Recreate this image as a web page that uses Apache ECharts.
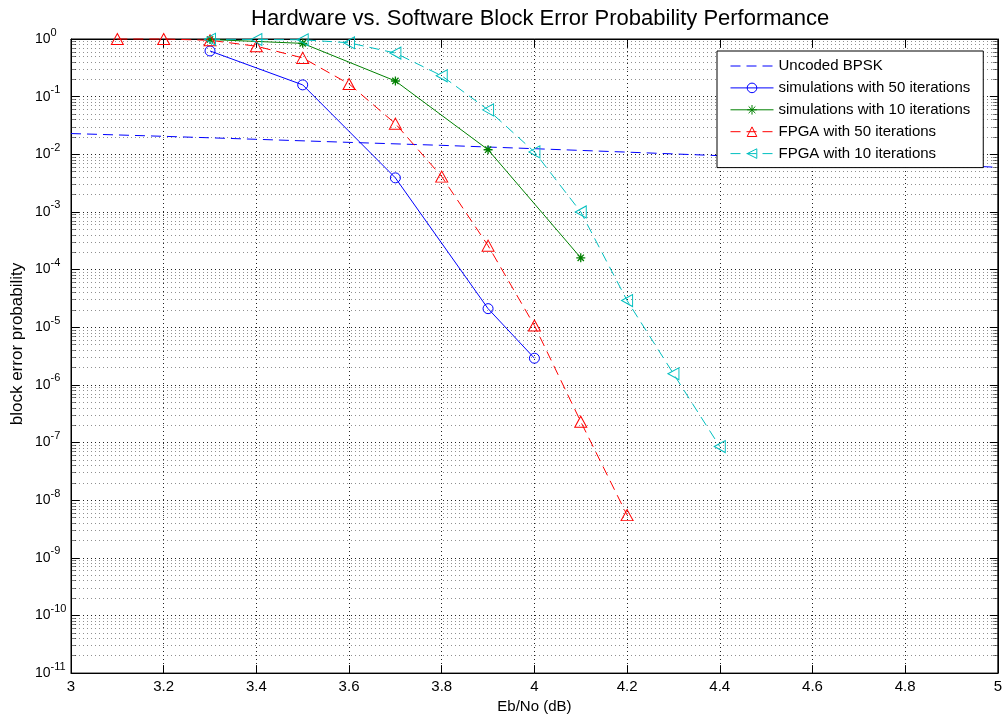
<!DOCTYPE html>
<html>
<head>
<meta charset="utf-8">
<script src="https://cdn.jsdelivr.net/npm/echarts@6/dist/echarts.min.js"></script>
<style>
  html, body { margin: 0; padding: 0; background: #fff; }
  #chart { width: 1005px; height: 719px; }
</style>
</head>
<body>
<div id="chart"></div>
<script>
// Eb/No (dB) and block error probability for each curve
const bpskEbNo   = [3.0, 3.2, 3.4, 3.6, 3.8, 4.0, 4.2, 4.4, 4.6, 4.8, 5.0];
const bpskBler   = [0.0229, 0.0205, 0.0182, 0.0161, 0.0143, 0.0125, 0.0109, 0.00946, 0.00816, 0.0070, 0.00595];

const sim50EbNo  = [3.3, 3.5, 3.7, 3.9, 4.0];
const sim50Bler  = [0.62, 0.16, 0.0039, 2.1e-5, 2.9e-6];

const sim10EbNo  = [3.3, 3.5, 3.7, 3.9, 4.1];
const sim10Bler  = [0.98, 0.84, 0.187, 0.012, 1.6e-4];

const fpga50EbNo = [3.1, 3.2, 3.3, 3.4, 3.5, 3.6, 3.7, 3.8, 3.9, 4.0, 4.1, 4.2];
const fpga50Bler = [1.0, 1.0, 0.95, 0.75, 0.47, 0.166, 0.034, 0.0041, 2.6e-4, 1.07e-5, 2.3e-7, 5.5e-9];

const fpga10EbNo = [3.3, 3.4, 3.5, 3.6, 3.7, 3.8, 3.9, 4.0, 4.1, 4.2, 4.3, 4.4];
const fpga10Bler = [0.99, 0.98, 0.97, 0.86, 0.57, 0.23, 0.059, 0.011, 1.0e-3, 2.9e-5, 1.56e-6, 8.5e-8];

// axis ranges and log-grid mantissas
const xTicks = [3, 3.2, 3.4, 3.6, 3.8, 4, 4.2, 4.4, 4.6, 4.8, 5];
const decadeExponents = [-11, -10, -9, -8, -7, -6, -5, -4, -3, -2, -1];
const minorMantissas = [2, 3, 4, 5, 6, 7, 8, 9];

const FONT = 'Liberation Sans, Arial, sans-serif';
const xMin = xTicks[0], xMax = xTicks[xTicks.length - 1];

function zip(xs, ys) { return xs.map((x, i) => [x, ys[i]]); }

// minor horizontal grid lines (2..9 x 10^n) and short minor ticks on both sides
const minorValues = [];
decadeExponents.forEach(e => minorMantissas.forEach(m => minorValues.push(m * Math.pow(10, e))));
const tickLen = (xMax - xMin) * 0.0055;
const minorGrid = minorValues.map(v => ({ coords: [[xMin, v], [xMax, v]] }));
const minorTicks = [];
minorValues.forEach(v => {
  minorTicks.push({ coords: [[xMin, v], [xMin + tickLen, v]] });
  minorTicks.push({ coords: [[xMax - tickLen, v], [xMax, v]] });
});

const chart = echarts.init(document.getElementById('chart'), null, { renderer: 'canvas' });

const dotted = { type: [1, 3], color: '#222', width: 1 };
const yLabel = {
  color: '#000',
  align: 'left',
  margin: 36,
  formatter: v => '{b|10}{s|' + Math.round(Math.log10(v)) + '}',
  rich: {
    b: { fontSize: 14, fontFamily: FONT, color: '#000', lineHeight: 24 },
    s: { fontSize: 11, fontFamily: FONT, color: '#000', verticalAlign: 'top', lineHeight: 11 }
  }
};

const option = {
  backgroundColor: '#fff',
  animation: false,
  title: {
    text: 'Hardware vs. Software Block Error Probability Performance',
    left: 246,
    top: 3,
    textStyle: { fontFamily: FONT, fontSize: 22, fontWeight: 'normal', color: '#000' }
  },
  graphic: [{
    type: 'text',
    x: 17, y: 344,
    rotation: Math.PI / 2,
    style: {
      text: 'block error probability',
      font: '17px ' + FONT,
      fill: '#000',
      align: 'center',
      verticalAlign: 'middle'
    }
  }],
  legend: {
    orient: 'vertical',
    left: 717,
    top: 51,
    padding: [7, 13, 6, 13],
    itemGap: 5.9,
    itemWidth: 43,
    itemHeight: 12,
    backgroundColor: '#fff',
    borderColor: '#000',
    borderWidth: 1,
    borderRadius: 0,
    lineStyle: { width: 1 },
    itemStyle: { color: 'rgba(0,0,0,0)', borderWidth: 1 },
    textStyle: { fontFamily: FONT, fontSize: 15, lineHeight: 16, color: '#000' },
    data: [
      { name: 'Uncoded BPSK', itemStyle: { color: 'rgba(0,0,0,0)', borderColor: 'rgba(0,0,0,0)' } },
      'simulations with 50 iterations', 'simulations with 10 iterations',
      'FPGA with 50 iterations', 'FPGA with 10 iterations'
    ]
  },
  grid: { left: 71, right: 3, top: 39, bottom: 45, show: true, borderColor: '#000', borderWidth: 1 },
  xAxis: [{
    type: 'value', min: xMin, max: xMax, interval: 0.2,
    name: 'Eb/No (dB)', nameLocation: 'middle', nameGap: 24,
    nameTextStyle: { fontFamily: FONT, fontSize: 15, color: '#000' },
    axisLine: { lineStyle: { color: '#000' } },
    axisTick: { inside: true, length: 8, lineStyle: { color: '#000' } },
    axisLabel: { fontFamily: FONT, fontSize: 15, color: '#000', margin: 6 },
    splitLine: { show: true, lineStyle: dotted }
  }, {
    type: 'value', min: xMin, max: xMax, interval: 0.2, position: 'top',
    axisLine: { lineStyle: { color: '#000' } },
    axisTick: { inside: true, length: 8, lineStyle: { color: '#000' } },
    axisLabel: { show: false }, splitLine: { show: false }
  }],
  yAxis: [{
    type: 'log', logBase: 10, min: 1e-11, max: 1, interval: 1,
    axisLine: { lineStyle: { color: '#000' } },
    axisTick: { inside: true, length: 8, lineStyle: { color: '#000' } },
    axisLabel: yLabel,
    splitLine: { show: true, lineStyle: dotted }
  }, {
    type: 'log', logBase: 10, min: 1e-11, max: 1, interval: 1, position: 'right',
    axisLine: { lineStyle: { color: '#000' } },
    axisTick: { inside: true, length: 8, lineStyle: { color: '#000' } },
    axisLabel: { show: false }, splitLine: { show: false }
  }],
  series: [
    {
      type: 'lines', name: 'minor grid', coordinateSystem: 'cartesian2d', z: 1, silent: true,
      polyline: false, symbol: 'none', lineStyle: dotted, data: minorGrid
    },
    {
      type: 'lines', name: 'minor ticks', coordinateSystem: 'cartesian2d', z: 1, silent: true,
      polyline: false, symbol: 'none', lineStyle: { type: 'solid', color: '#000', width: 1 }, data: minorTicks
    },
    {
      type: 'line', name: 'Uncoded BPSK', data: zip(bpskEbNo, bpskBler), z: 3,
      symbol: 'none', color: '#0000ff',
      lineStyle: { color: '#0000ff', width: 1, type: [10, 6] }
    },
    {
      type: 'line', name: 'simulations with 50 iterations', data: zip(sim50EbNo, sim50Bler), z: 3,
      symbol: 'circle', symbolSize: 10, color: '#0000ff',
      itemStyle: { color: 'rgba(0,0,0,0)', borderColor: '#0000ff', borderWidth: 1 },
      lineStyle: { color: '#0000ff', width: 1 }
    },
    {
      type: 'line', name: 'simulations with 10 iterations', data: zip(sim10EbNo, sim10Bler), z: 3,
      symbol: 'path://M5,0 L5,10 M0,5 L10,5 M1.5,1.5 L8.5,8.5 M8.5,1.5 L1.5,8.5', symbolSize: 9,
      color: '#008000',
      itemStyle: { color: 'rgba(0,0,0,0)', borderColor: '#008000', borderWidth: 1.3 },
      lineStyle: { color: '#008000', width: 1 }
    },
    {
      type: 'line', name: 'FPGA with 50 iterations', data: zip(fpga50EbNo, fpga50Bler), z: 3,
      symbol: 'path://M5,0 L10,9 L0,9 Z', symbolSize: [12, 11], clip: false,
      color: '#ff0000',
      itemStyle: { color: 'rgba(0,0,0,0)', borderColor: '#ff0000', borderWidth: 1 },
      lineStyle: { color: '#ff0000', width: 1, type: [10, 6] }
    },
    {
      type: 'line', name: 'FPGA with 10 iterations', data: zip(fpga10EbNo, fpga10Bler), z: 3,
      symbol: 'path://M0,5 L9,0 L9,10 Z', symbolSize: [11, 12], clip: false,
      color: '#00bfbf',
      itemStyle: { color: 'rgba(0,0,0,0)', borderColor: '#00bfbf', borderWidth: 1 },
      lineStyle: { color: '#00bfbf', width: 1, type: [10, 6] }
    }
  ]
};

chart.setOption(option);
</script>
</body>
</html>
